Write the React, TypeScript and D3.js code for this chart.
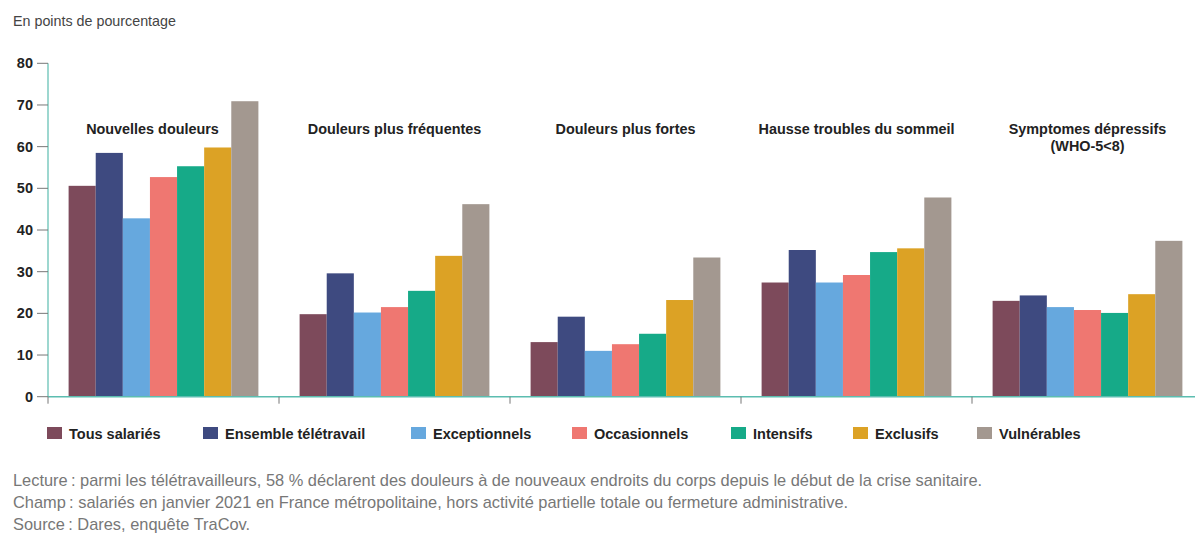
import React from 'react';
import * as d3 from 'd3';

const categories = [
  'Nouvelles douleurs',
  'Douleurs plus fréquentes',
  'Douleurs plus fortes',
  'Hausse troubles du sommeil',
  'Symptomes dépressifs|(WHO-5<8)',
];
const seriesNames = [
  'Tous salariés',
  'Ensemble télétravail',
  'Exceptionnels',
  'Occasionnels',
  'Intensifs',
  'Exclusifs',
  'Vulnérables',
];
const seriesColors = ['#7d4a5b', '#3e4a80', '#66a8de', '#ef7771', '#16aa88', '#dca225', '#a39890'];

// one array per category, in the order of seriesNames
const nouvelles = [50.6, 58.5, 42.8, 52.7, 55.3, 59.8, 70.9];
const frequentes = [19.8, 29.6, 20.2, 21.5, 25.4, 33.8, 46.2];
const fortes = [13.1, 19.2, 11.0, 12.6, 15.1, 23.2, 33.4];
const sommeil = [27.4, 35.2, 27.4, 29.2, 34.7, 35.6, 47.8];
const depressifs = [23.0, 24.3, 21.5, 20.8, 20.1, 24.6, 37.4];
const values = [nouvelles, frequentes, fortes, sommeil, depressifs];

const yTicks = [0, 10, 20, 30, 40, 50, 60, 70, 80];
const legendX = [47, 203, 411, 572, 731, 853, 977];
const notes = [
  'Lecture\u202F: parmi les télétravailleurs, 58 % déclarent des douleurs à de nouveaux endroits du corps depuis le début de la crise sanitaire.',
  'Champ\u202F: salariés en janvier 2021 en France métropolitaine, hors activité partielle totale ou fermeture administrative.',
  'Source\u202F: Dares, enquête TraCov.',
];

const W = 1195;
const H = 536;
const axisColor = '#5cbdb0';
const font = '"Liberation Sans", Arial, sans-serif';

export default function App() {
  const x0 = d3.scaleBand<number>().domain(d3.range(categories.length)).range([48, 48 + 231 * 5]);
  const x1 = d3.scaleBand<number>().domain(d3.range(seriesNames.length)).range([0, x0.bandwidth()]).paddingOuter(0.76);
  const y = d3.scaleLinear().domain([0, 80]).range([396.7, 63.3]);

  return (
    <svg width={W} height={H} style={{ position: 'absolute', left: 0, top: 0, background: '#fff' }} fontFamily={font}>
      <text x={13} y={26} fontSize={14.3} fill="#444">En points de pourcentage</text>

      {/* bars */}
      {values.map((row, ci) => (
        <g key={ci} transform={`translate(${x0(ci)},0)`}>
          {row.map((v, si) => (
            <rect key={si} x={x1(si)} y={y(v)} width={x1.bandwidth()} height={y(0) - y(v)} fill={seriesColors[si]} />
          ))}
        </g>
      ))}

      {/* category labels */}
      {categories.map((c, ci) => {
        const cx = (x0(ci) as number) + x0.bandwidth() / 2 - (ci === 0 ? 11 : 0);
        return c.split('|').map((line, li) => (
          <text key={ci + '-' + li} x={cx} y={134 + li * 17} textAnchor="middle" fontSize={14.4} fontWeight="bold" fill="#222">
            {line}
          </text>
        ));
      })}

      {/* y axis */}
      <line x1={48} x2={48} y1={y(80)} y2={y(0)} stroke={axisColor} strokeWidth={1.2} />
      {yTicks.map((t) => (
        <g key={t}>
          <line x1={37} x2={48} y1={y(t)} y2={y(t)} stroke="#777" strokeWidth={1} />
          <text x={33} y={y(t) + 5} textAnchor="end" fontSize={14.5} fontWeight="bold" fill="#222">{t}</text>
        </g>
      ))}

      {/* x axis */}
      <line x1={48} x2={W} y1={y(0)} y2={y(0)} stroke={axisColor} strokeWidth={1.5} />
      {d3.range(categories.length + 1).map((i) => {
        const tx = 48 + i * x0.step();
        return <line key={i} x1={tx} x2={tx} y1={y(0)} y2={y(0) + 7} stroke="#777" strokeWidth={1} />;
      })}

      {/* legend */}
      {seriesNames.map((s, si) => (
        <g key={s} transform={`translate(${legendX[si]},427)`}>
          <rect x={0} y={0} width={15} height={12} fill={seriesColors[si]} />
          <text x={22} y={11.5} fontSize={14.5} fontWeight="bold" fill="#222">{s}</text>
        </g>
      ))}

      {/* notes */}
      {notes.map((n, i) => (
        <text key={i} x={13} y={486 + i * 22} fontSize={16.4} fill="#777">{n}</text>
      ))}
    </svg>
  );
}
